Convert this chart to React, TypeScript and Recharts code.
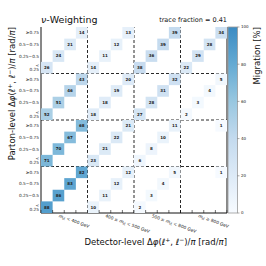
import React from 'react';
import { ScatterChart, Scatter, XAxis, YAxis, ReferenceLine } from 'recharts';

// Δφ sub-bins (inside every m_tt block), mass-bin labels, colorbar ticks
const dphiBins = ['< 0.25', '0.25\u22120.5', '0.5\u22120.75', '\u22650.75'];
const mttBins = [
    ['', '< 400 GeV'],
    ['400 \u2264 ', '< 500 GeV'],
    ['500 \u2264 ', '< 800 GeV'],
    ['', '\u2265 800 GeV'],
];
const cbTicks = [0, 20, 40, 60, 80, 100];

// migration [%] for each parton-level m_tt bin: one row per detector-level m_tt bin,
// four Δφ sub-bins each (0 = empty)
const partonMtt1 = [[88, 86, 83, 82], [10, 11, 12, 12], [2, 3, 4, 5], [0, 0, 0, 1]];
const partonMtt2 = [[71, 70, 67, 68], [23, 21, 22, 21], [6, 8, 10, 11], [0, 0, 0, 1]];
const partonMtt3 = [[52, 51, 46, 43], [18, 18, 19, 20], [27, 28, 31, 32], [2, 3, 4, 5]];
const partonMtt4 = [[26, 24, 21, 14], [14, 11, 12, 13], [38, 36, 39, 39], [22, 29, 28, 34]];
const traceFraction = 0.41;

const W = 266;
const H = 266;
const M = { top: 27, right: 39, left: 0, bottom: 0 };
const Y_W = 41;
const X_H = 53;
const PLOT_L = M.left + Y_W;
const PLOT_R = W - M.right;
const PLOT_T = M.top;
const PLOT_B = H - X_H;
const CELL = (PLOT_R - PLOT_L) / 16;

const FONT = '"DejaVu Sans", sans-serif';

const blues = ['#f7fbff', '#deebf7', '#c6dbef', '#9ecae1', '#6baed6', '#4292c6', '#2171b5', '#08519c', '#08306b'];
function hex(c: string) {
    return [1, 3, 5].map((i) => parseInt(c.slice(i, i + 2), 16));
}
function colour(v: number) {
    const t = (v / 100) * 0.65 * (blues.length - 1);
    const i = Math.min(Math.floor(t), blues.length - 2);
    const f = t - i;
    const a = hex(blues[i]);
    const b = hex(blues[i + 1]);
    const c = a.map((x, j) => Math.round(x + (b[j] - x) * f));
    return `rgb(${c[0]},${c[1]},${c[2]})`;
}

const cells: { x: number; y: number; v: number }[] = [];
[partonMtt1, partonMtt2, partonMtt3, partonMtt4].forEach((block, b) => {
    block.forEach((row, c) => {
        row.forEach((v, k) => {
            if (v > 0) cells.push({ x: 4 * c + k + 0.5, y: 4 * b + k + 0.5, v });
        });
    });
});

const boundaries = Array.from({ length: 17 }, (_, i) => i);
const rowCentres = Array.from({ length: 16 }, (_, i) => i + 0.5);
const mttCentres = [1.5, 5.5, 9.5, 13.5];
const bottomTicks = [...boundaries, ...mttCentres].sort((a, b) => a - b);

const CellBox = (props: any) => {
    const { cx, cy, payload } = props;
    return (
        <g>
            <rect x={cx - CELL / 2} y={cy - CELL / 2} width={CELL} height={CELL} fill={colour(payload.v)} />
            <text x={cx} y={cy + 1.4} textAnchor="middle" fontSize={4} fontWeight="bold" fill="#222" fontFamily={FONT}>
                {payload.v}
            </text>
        </g>
    );
};

// bottom axis: inward tick marks on bin edges, rotated m_tt labels on block positions
const BottomTick = (props: any) => {
    const { x, y, payload } = props;
    const v = payload.value;
    if (Number.isInteger(v)) {
        return <line x1={x} x2={x} y1={y} y2={y - 3} stroke="#111" strokeWidth={0.6} />;
    }
    const idx = mttCentres.indexOf(v);
    if (idx < 0) return <g />;
    const [pre, post] = mttBins[idx];
    const ty = y + 4;
    return (
        <text x={x} y={ty} transform={`rotate(20, ${x}, ${ty})`} fontSize={4.4} fill="#222" fontFamily={FONT}>
            {pre}
            <tspan fontStyle="italic">m</tspan>
            <tspan fontSize={3.2} dy={1}>t{'t\u0304'}</tspan>
            <tspan dy={-1}> {post}</tspan>
        </text>
    );
};

const TopTick = (props: any) => {
    const { x, y } = props;
    return <line x1={x} x2={x} y1={y} y2={y + 3} stroke="#111" strokeWidth={0.6} />;
};

function Overlay() {
    const cbX = PLOT_R + 1;
    const cbW = 9.5;
    const cbY = (v: number) => PLOT_B - (v / 100) * (PLOT_B - PLOT_T);
    return (
        <svg width={W} height={H} style={{ position: 'absolute', left: 0, top: 0, pointerEvents: 'none' }} fontFamily={FONT}>
            <defs>
                <linearGradient id="cb" x1="0" y1="1" x2="0" y2="0">
                    {cbTicks.map((t) => (
                        <stop key={t} offset={`${t}%`} stopColor={colour(t)} />
                    ))}
                </linearGradient>
            </defs>
            <text x={PLOT_L} y={23} fontSize={9.5} fill="#111">
                <tspan fontStyle="italic">ν</tspan>-Weighting
            </text>
            <text x={PLOT_R} y={22} fontSize={6.5} fill="#111" textAnchor="end">
                trace fraction = {traceFraction}
            </text>
            <text transform={`translate(15, ${PLOT_T}) rotate(-90)`} textAnchor="end" fontSize={8.5} fill="#111">
                Parton-level Δ<tspan fontStyle="italic">φ</tspan>(<tspan fontStyle="italic">ℓ</tspan>
                <tspan fontSize={6} dy={-3}>+</tspan>
                <tspan dy={3}>, </tspan>
                <tspan fontStyle="italic">ℓ</tspan>
                <tspan fontSize={6} dy={-3}>−</tspan>
                <tspan dy={3}>)/</tspan>
                <tspan fontStyle="italic">π</tspan> [rad/<tspan fontStyle="italic">π</tspan>]
            </text>
            <text x={PLOT_R} y={245} textAnchor="end" fontSize={8.5} fill="#111">
                Detector-level Δ<tspan fontStyle="italic">φ</tspan>(<tspan fontStyle="italic">ℓ</tspan>
                <tspan fontSize={6} dy={-3}>+</tspan>
                <tspan dy={3}>, </tspan>
                <tspan fontStyle="italic">ℓ</tspan>
                <tspan fontSize={6} dy={-3}>−</tspan>
                <tspan dy={3}>)/</tspan>
                <tspan fontStyle="italic">π</tspan> [rad/<tspan fontStyle="italic">π</tspan>]
            </text>
            <rect x={cbX} y={PLOT_T} width={cbW} height={PLOT_B - PLOT_T} fill="url(#cb)" stroke="#999" strokeWidth={0.8} />
            {cbTicks.map((t) => (
                <g key={t}>
                    <line x1={cbX + cbW} x2={cbX + cbW + 2} y1={cbY(t)} y2={cbY(t)} stroke="#555" strokeWidth={0.5} />
                    <text x={cbX + cbW + 3.5} y={cbY(t) + 1.4} fontSize={4} fill="#222">
                        {t}
                    </text>
                </g>
            ))}
            <text transform={`translate(260, ${PLOT_T}) rotate(-90)`} textAnchor="end" fontSize={8.5} fill="#111">
                Migration [%]
            </text>
        </svg>
    );
}

export default function App() {
    return (
        <div style={{ position: 'absolute', left: 0, top: 0, width: W, height: H, background: '#fff' }}>
            <ScatterChart width={W} height={H} margin={M}>
                <XAxis
                    type="number"
                    dataKey="x"
                    domain={[0, 16]}
                    ticks={bottomTicks}
                    interval={0}
                    height={X_H}
                    tickLine={false}
                    tickSize={0}
                    tickMargin={0}
                    tick={<BottomTick />}
                    stroke="#111"
                    allowDataOverflow
                />
                <XAxis
                    xAxisId="top"
                    orientation="top"
                    type="number"
                    domain={[0, 16]}
                    ticks={boundaries}
                    interval={0}
                    height={0}
                    tickLine={false}
                    tickSize={0}
                    tickMargin={0}
                    tick={<TopTick />}
                    stroke="#111"
                />
                <YAxis
                    type="number"
                    dataKey="y"
                    domain={[0, 16]}
                    ticks={rowCentres}
                    width={Y_W}
                    tickLine={false}
                    tickSize={0}
                    tickMargin={2}
                    interval={0}
                    tickFormatter={(v: number) => dphiBins[Math.floor(v) % 4]}
                    tick={{ fontSize: 4.3, fill: '#222', fontFamily: FONT }}
                    stroke="#111"
                    allowDataOverflow
                />
                <Scatter data={cells} shape={<CellBox />} isAnimationActive={false} />
                {[4, 8, 12].map((b) => (
                    <ReferenceLine key={`x${b}`} x={b} stroke="#111" strokeDasharray="3 2" strokeWidth={0.9} />
                ))}
                {[4, 8, 12].map((b) => (
                    <ReferenceLine key={`y${b}`} y={b} stroke="#111" strokeDasharray="3 2" strokeWidth={0.9} />
                ))}
                <ReferenceLine x={16} stroke="#111" strokeWidth={1} />
            </ScatterChart>
            <Overlay />
        </div>
    );
}
